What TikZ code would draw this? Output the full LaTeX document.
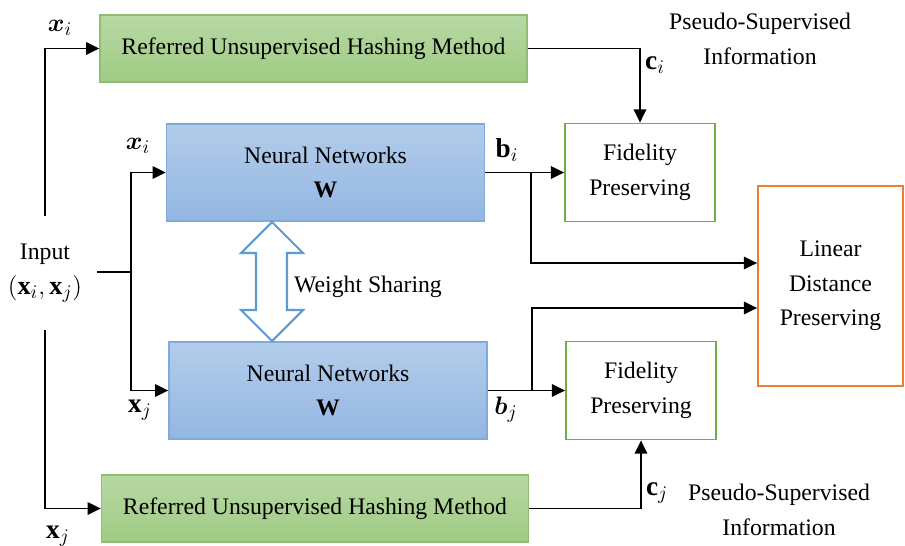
\documentclass[tikz,border=0pt]{standalone}
\usepackage{fontspec}
\setmainfont{Liberation Serif}
\usepackage{bm}
\usetikzlibrary{positioning,arrows.meta}

\definecolor{hashtop}{HTML}{B8D8A4}
\definecolor{hashbot}{HTML}{9FCB83}
\definecolor{hashline}{HTML}{8FBD72}
\definecolor{nettop}{HTML}{B3CCEA}
\definecolor{netbot}{HTML}{93B7E2}
\definecolor{netline}{HTML}{80AADB}
\definecolor{fidline}{HTML}{70AD47}
\definecolor{linline}{HTML}{ED7D31}
\definecolor{shareline}{HTML}{5B9BD5}

\tikzset{
  hashbox/.style={draw=hashline, line width=0.8pt, top color=hashtop, bottom color=hashbot,
    minimum width=8.54cm, minimum height=1.34cm},
  netbox/.style={draw=netline, line width=0.8pt, top color=nettop, bottom color=netbot,
    minimum width=6.36cm, minimum height=1.94cm, align=center},
  fidbox/.style={draw=fidline, line width=1pt, fill=white,
    minimum width=3cm, minimum height=1.96cm, align=center},
  linbox/.style={draw=linline, line width=1pt, fill=white,
    minimum width=2.9cm, minimum height=4cm, align=center},
  conn/.style={line width=1.1pt},
  arr/.style={conn, -{Triangle[length=7.5pt,width=7pt]}},
  lbl/.style={inner sep=0pt, font=\fontsize{15.5}{18}\selectfont},
}

\begin{document}
\begin{tikzpicture}[x=0.02cm, y=-0.02cm, font=\fontsize{13.5}{19.6}\selectfont]
\useasboundingbox (0,0) rectangle (905,545);

% boxes
\node[hashbox] (hashi) at (313.5,48.5) {Referred Unsupervised Hashing Method};
\node[hashbox] (hashj) at (315,508.5) {Referred Unsupervised Hashing Method};
\node[netbox] (nni) at (325.5,172.5) {Neural Networks\\$\mathbf{W}$};
\node[netbox] (nnj) at (328,390.5) {Neural Networks\\$\mathbf{W}$};
\node[fidbox] (fidi) at (640,172.5) {Fidelity\\Preserving};
\node[fidbox] (fidj) at (641,390.5) {Fidelity\\Preserving};
\node[linbox] (lin) at (830.5,286) {Linear\\Distance\\Preserving};

% input
\node[align=center, inner xsep=0.3cm, inner ysep=0.55cm] (input) at (45,273)
  {Input\\{\fontsize{15}{18}\selectfont$(\mathbf{x}_i,\mathbf{x}_j)$}};
\coordinate (split) at (131,272);
\coordinate (bisplit) at (531,172.5);
\coordinate (bjsplit) at (532,390.5);

% weight sharing
\draw[shareline, line width=1.2pt, fill=white]
  (272,222) -- (303,253) -- (287,253) -- (287,310) -- (303,310) -- (272,341)
  -- (241,310) -- (256,310) -- (256,253) -- (241,253) -- cycle;
\node (share) at (368,287) {Weight Sharing};

% connectors
\draw[arr] (input.north) |- (hashi.west);
\draw[arr] (input.south) |- (hashj.west);
\draw[conn] (input.east |- split) -- (split);
\draw[arr] (split) |- (nni.west);
\draw[arr] (split) |- (nnj.west);
\draw[arr] (nni.east) -- (fidi.west);
\draw[arr] (nnj.east) -- (fidj.west);
\draw[arr] (bisplit) |- ([yshift=0.46cm]lin.west);
\draw[arr] (bjsplit) |- ([yshift=-0.44cm]lin.west);
\draw[arr] (hashi.east) -| (fidi.north);
\draw[arr] (hashj.east) -| (fidj.south);

% labels
\node[lbl] (xitop) at (60,28) {$\bm{x}_i$};
\node[lbl] (xinet) at (138,146) {$\bm{x}_i$};
\node[lbl] (xjnet) at (140,410) {$\mathbf{x}_j$};
\node[lbl] (xjbot) at (58,536) {$\mathbf{x}_j$};
\node[lbl] (bi) at (507,150) {$\mathbf{b}_i$};
\node[lbl] (bj) at (506,410) {$\bm{b}_j$};
\node[lbl] (ci) at (655,65) {$\mathbf{c}_i$};
\node[lbl] (cj) at (657,493) {$\mathbf{c}_j$};
\node[align=center] (infoi) at (760,39) {Pseudo-Supervised\\Information};
\node[align=center] (infoj) at (779,510) {Pseudo-Supervised\\Information};
\end{tikzpicture}
\end{document}
